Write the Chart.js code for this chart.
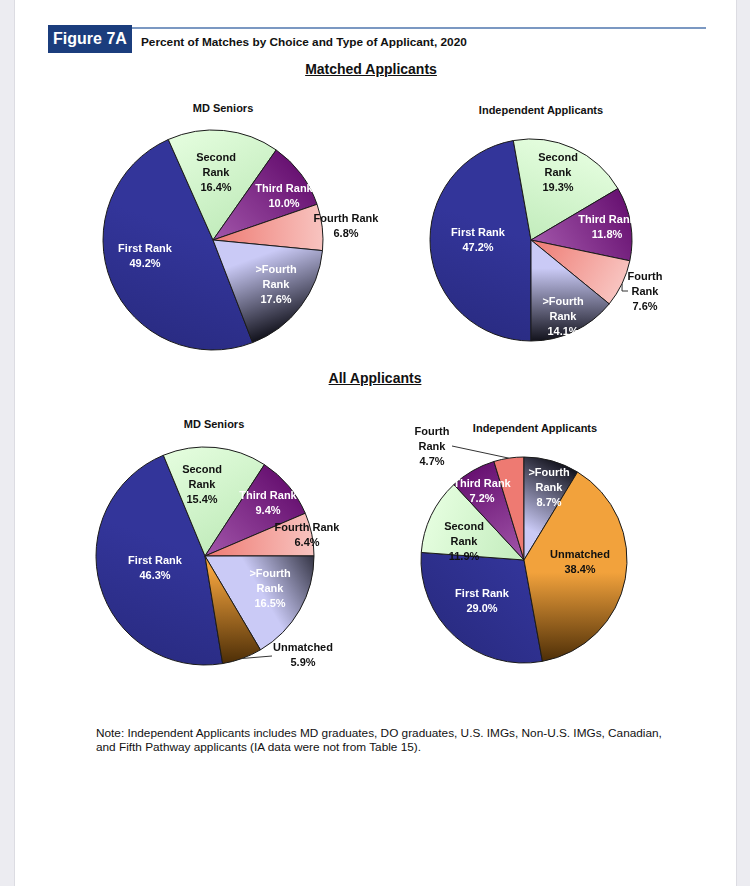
<!DOCTYPE html>
<html>
<head>
<meta charset="utf-8">
<script src="https://cdn.jsdelivr.net/npm/chart.js@4"></script>
<style>
  body { margin: 0; background: #ececf1; font-family: "Liberation Sans", Arial, sans-serif; }
  #page { position: relative; width: 750px; height: 886px; }
  #sheet { position: absolute; left: 14px; top: 0; width: 721px; height: 886px; background: #fff; border-left: 1px solid #dcdce2; border-right: 1px solid #dcdce2; }
  .abs { position: absolute; white-space: nowrap; color: #111; }
  .fig { left: 48px; top: 25px; width: 84px; height: 28px; background: #1b3d7d; color: #fff; font-weight: bold; font-size: 16px; line-height: 28px; text-align: center; }
  .rule { left: 132px; top: 27px; width: 574px; height: 2px; background: #7b98c2; }
  .head { font-weight: bold; font-size: 14px; text-decoration: underline; line-height: 16px; transform: translateX(-50%); }
  .sub { font-weight: bold; font-size: 11px; line-height: 14px; transform: translateX(-50%); }
  canvas { position: absolute; }
</style>
</head>
<body>
<div id="page">
  <div id="sheet"></div>
  <div class="abs rule"></div>
  <div class="abs fig">Figure 7A</div>
  <div class="abs" style="left:141px;top:35px;font-weight:bold;font-size:11.8px;line-height:14px;">Percent of Matches by Choice and Type of Applicant, 2020</div>
  <div class="abs head" style="left:371px;top:61px;">Matched Applicants</div>
  <div class="abs sub" style="left:223px;top:101px;">MD Seniors</div>
  <div class="abs sub" style="left:541px;top:103px;">Independent Applicants</div>
  <div class="abs head" style="left:375px;top:370px;">All Applicants</div>
  <div class="abs sub" style="left:214px;top:417px;">MD Seniors</div>
  <div class="abs sub" style="left:535px;top:421px;">Independent Applicants</div>
  <div class="abs" style="left:96px;top:726px;font-size:11.8px;line-height:14px;">Note: Independent Applicants includes MD graduates, DO graduates, U.S. IMGs, Non-U.S. IMGs, Canadian,<br>and Fifth Pathway applicants (IA data were not from Table 15).</div>

  <canvas id="pie1" width="380" height="260" style="left:23px;top:110px;"></canvas>
  <canvas id="pie2" width="380" height="260" style="left:341px;top:110px;"></canvas>
  <canvas id="pie3" width="380" height="280" style="left:15px;top:416px;"></canvas>
  <canvas id="pie4" width="380" height="300" style="left:334px;top:410px;"></canvas>
</div>

<script>
// categories (same order in every pie)
const matchedLabels = ['First Rank', 'Second Rank', 'Third Rank', 'Fourth Rank', '>Fourth Rank'];
const allLabels = ['First Rank', 'Second Rank', 'Third Rank', 'Fourth Rank', '>Fourth Rank', 'Unmatched'];

// percent of matches, 2020
const matchedMdSeniors = [49.2, 16.4, 10.0, 6.8, 17.6];
const matchedIndependent = [47.2, 19.3, 11.8, 7.6, 14.1];
const allMdSeniors = [46.3, 15.4, 9.4, 6.4, 16.5, 5.9];
const allIndependent = [29.0, 11.9, 7.2, 4.7, 8.7, 38.4];

// colours: colour near the centre, colour toward the rim, where the fade starts
const innerColors = ['#33359a', '#c2ecbc', '#a256aa', '#ee7a72', '#cacaf6', '#f2a23c'];
const outerColors = ['#2a2c84', '#e4fdde', '#681272', '#f8c4c0', '#12121c', '#4a2c06'];
const fadeStart = [0.5, 0.5, 0.5, 0.5, 0.64, 0.56];

function sliceFill(shadeDirs) {
  return function(context) {
    const chart = context.chart;
    const area = chart.chartArea;
    if (!area) return innerColors[context.dataIndex];
    const i = context.dataIndex;
    const cx = (area.left + area.right) / 2;
    const cy = (area.top + area.bottom) / 2;
    const r = chart.options.radius;
    const a = shadeDirs[i] * Math.PI / 180;
    const vx = Math.sin(a), vy = -Math.cos(a);
    const g = chart.ctx.createLinearGradient(cx - vx * r, cy - vy * r, cx + vx * r, cy + vy * r);
    g.addColorStop(0, innerColors[i]);
    g.addColorStop(fadeStart[i], innerColors[i]);
    g.addColorStop(1, outerColors[i]);
    return g;
  };
}

function labelLines(name, value, wrap) {
  const pct = value.toFixed(1) + '%';
  if (wrap && name.indexOf(' ') > 0) return name.split(' ').concat([pct]);
  return [name, pct];
}

const sliceLabels = {
  id: 'sliceLabels',
  afterDatasetsDraw(chart, args, opts) {
    const ctx = chart.ctx;
    const meta = chart.getDatasetMeta(0);
    const values = chart.data.datasets[0].data;
    ctx.save();
    ctx.font = 'bold 11px "Liberation Sans", Arial, sans-serif';
    ctx.textAlign = 'center';
    ctx.textBaseline = 'middle';
    meta.data.forEach((arc, i) => {
      const spec = opts.items[i];
      if (spec.leader) {
        const mid = (arc.startAngle + arc.endAngle) / 2;
        ctx.beginPath();
        ctx.strokeStyle = '#333';
        ctx.lineWidth = 1;
        ctx.moveTo(arc.x + Math.cos(mid) * arc.outerRadius, arc.y + Math.sin(mid) * arc.outerRadius);
        spec.leader.forEach(p => ctx.lineTo(arc.x + p[0], arc.y + p[1]));
        ctx.stroke();
      }
      const lines = labelLines(chart.data.labels[i], values[i], spec.wrap);
      ctx.fillStyle = spec.color;
      const x = arc.x + spec.dx, y = arc.y + spec.dy;
      lines.forEach((t, k) => ctx.fillText(t, x, y + (k - (lines.length - 1) / 2) * 15));
    });
    ctx.restore();
  }
};

function makePie(id, labels, values, rotation, radius, shadeDirs, items) {
  return new Chart(document.getElementById(id), {
    type: 'pie',
    data: {
      labels: labels,
      datasets: [{
        data: values,
        backgroundColor: sliceFill(shadeDirs),
        borderColor: '#1a1a1a',
        borderWidth: 1
      }]
    },
    options: {
      responsive: false,
      animation: false,
      rotation: rotation,
      radius: radius,
      events: [],
      layout: { padding: 0 },
      plugins: {
        legend: { display: false },
        tooltip: { enabled: false },
        sliceLabels: { items: items }
      }
    },
    plugins: [sliceLabels]
  });
}

const W = '#fff', K = '#111';

makePie('pie1', matchedLabels, matchedMdSeniors, 158.9, 110, [200, 330, 45, 90, 160], [
  { dx: -68, dy: 16, color: W },
  { dx: 3, dy: -67, color: K, wrap: true },
  { dx: 71, dy: -44, color: W },
  { dx: 133, dy: -14, color: K },
  { dx: 63, dy: 45, color: W, wrap: true }
]);

makePie('pie2', matchedLabels, matchedIndependent, 180, 101, [200, 20, 60, 120, 180], [
  { dx: -53, dy: 0, color: W },
  { dx: 27, dy: -67, color: K, wrap: true },
  { dx: 76, dy: -13, color: W },
  { dx: 114, dy: 52, color: K, wrap: true, leader: [[91, 51], [97, 51]] },
  { dx: 32, dy: 77, color: W, wrap: true }
]);

makePie('pie3', allLabels, allMdSeniors, 170.7, 109, [200, 330, 45, 90, 60, 180], [
  { dx: -50, dy: 12, color: W },
  { dx: -3, dy: -71, color: K, wrap: true },
  { dx: 63, dy: -53, color: W },
  { dx: 102, dy: -21, color: K },
  { dx: 65, dy: 33, color: W, wrap: true },
  { dx: 98, dy: 99, color: K, leader: [[67, 100]] }
]);

makePie('pie4', allLabels, allIndependent, 169.7, 103, [225, 290, 330, 180, 30, 180], [
  { dx: -42, dy: 41, color: W },
  { dx: -60, dy: -18, color: K, wrap: true },
  { dx: -42, dy: -69, color: W },
  { dx: -92, dy: -113, color: K, wrap: true, leader: [[-72, -114]] },
  { dx: 25, dy: -72, color: W, wrap: true },
  { dx: 56, dy: 2, color: K }
]);
</script>
</body>
</html>
